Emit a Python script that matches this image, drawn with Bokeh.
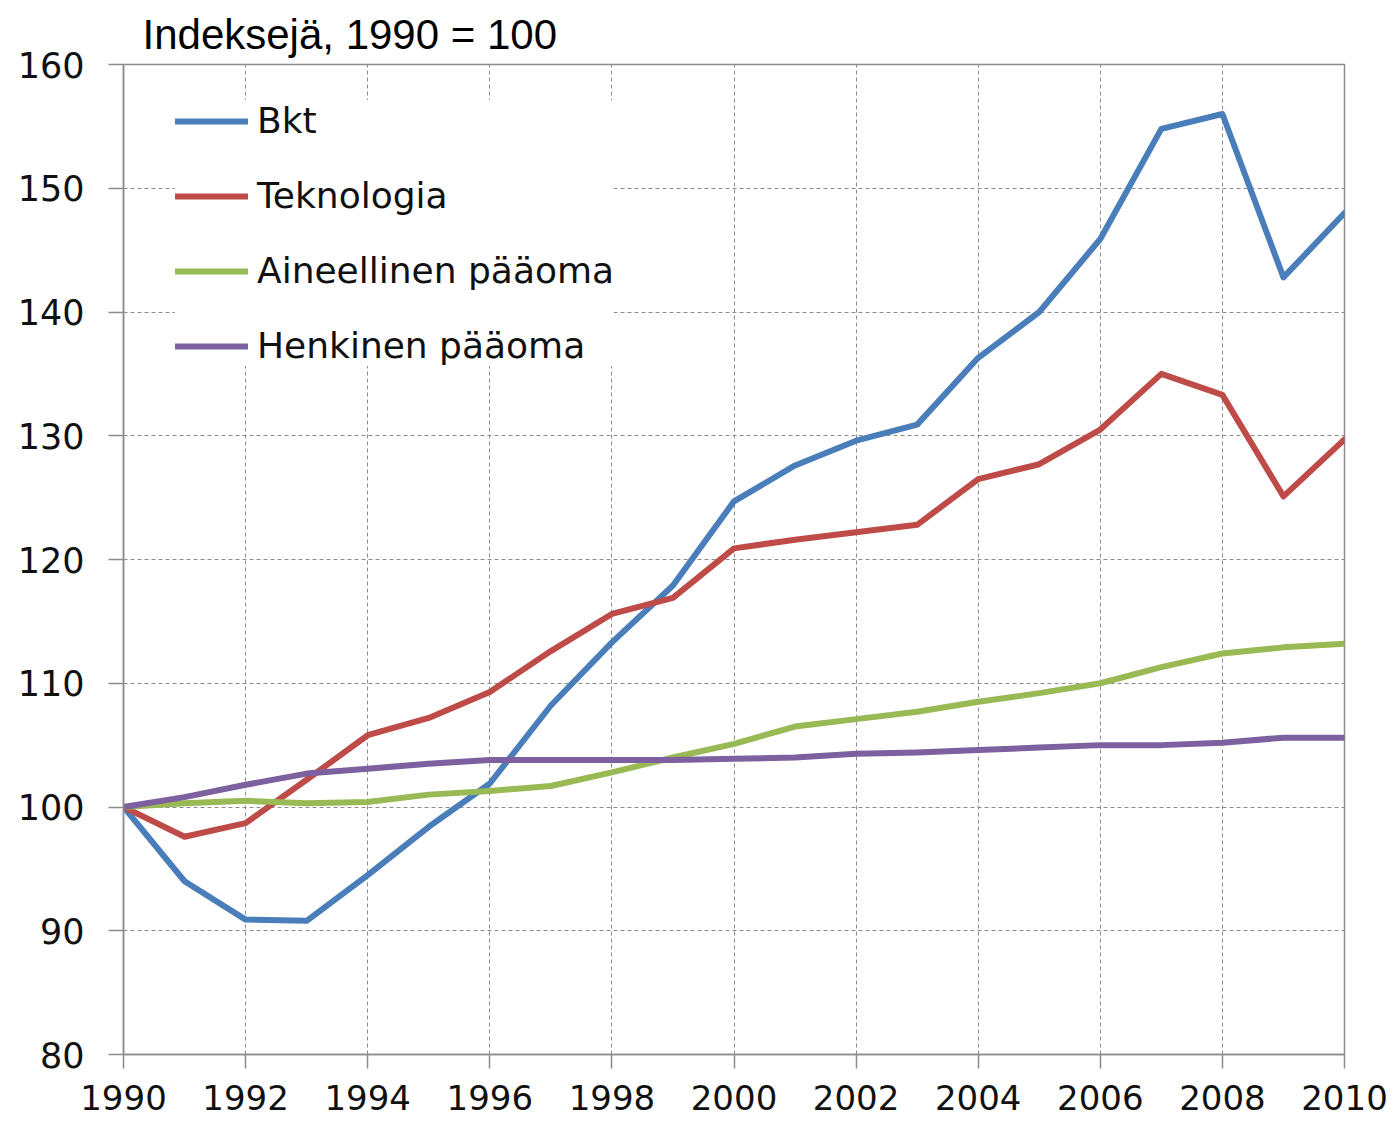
from bokeh.plotting import figure
from bokeh.models import Range1d, FixedTicker, Legend, LegendItem, Title
from bokeh.embed import file_html
from bokeh.resources import INLINE

years = list(range(1990, 2011))
bkt = [100, 94.0, 90.9, 90.8, 94.5, 98.4, 101.9, 108.2, 113.3, 117.9, 124.7,
       127.6, 129.6, 130.9, 136.3, 140.0, 145.9, 154.8, 156.0, 142.8, 148.0]
teknologia = [100, 97.6, 98.7, 102.2, 105.8, 107.2, 109.3, 112.6, 115.6, 116.9, 120.9,
              121.6, 122.2, 122.8, 126.5, 127.7, 130.5, 135.0, 133.3, 125.1, 129.7]
aineellinen = [100, 100.3, 100.5, 100.3, 100.4, 101.0, 101.3, 101.7, 102.8, 104.0, 105.1,
               106.5, 107.1, 107.7, 108.5, 109.2, 110.0, 111.3, 112.4, 112.9, 113.2]
henkinen = [100, 100.8, 101.8, 102.7, 103.1, 103.5, 103.8, 103.8, 103.8, 103.8, 103.9,
            104.0, 104.3, 104.4, 104.6, 104.8, 105.0, 105.0, 105.2, 105.6, 105.6]

series_names = ["Bkt", "Teknologia", "Aineellinen pääoma", "Henkinen pääoma"]
series_values = [bkt, teknologia, aineellinen, henkinen]
colors = ["#4A7EBB", "#BE4B48", "#98B954", "#7D60A0"]
x_ticks = list(range(1990, 2011, 2))
y_ticks = list(range(80, 161, 10))
title_text = "Indeksejä, 1990 = 100"

FONT = "DejaVu Sans"
GRID = "#8c8c8c"

p = figure(frame_width=1221, frame_height=990, output_backend="svg", toolbar_location=None,
           x_range=Range1d(1990, 2010), y_range=Range1d(80, 160),
           min_border_left=123, min_border_right=49, min_border_top=64, min_border_bottom=72)
p.background_fill_color = "white"
p.border_fill_color = "white"
p.outline_line_color = "#8c8c8c"
p.outline_line_width = 1.5

for ax, ticks in ((p.xaxis, x_ticks), (p.yaxis, y_ticks)):
    ax.ticker = FixedTicker(ticks=ticks)
    ax.axis_line_color = "#8c8c8c"
    ax.axis_line_width = 1.5
    ax.major_tick_line_color = "#8c8c8c"
    ax.major_tick_line_width = 1.5
    ax.major_tick_in = 0
    ax.minor_tick_line_color = None
    ax.major_label_text_font = FONT
    ax.major_label_text_color = "#111111"
p.xaxis.major_label_text_font_size = "34px"
p.yaxis.major_label_text_font_size = "35px"
p.xaxis.major_tick_out = 14
p.yaxis.major_tick_out = 15
p.xaxis.major_label_standoff = 16
p.yaxis.major_label_standoff = 24

for g in (p.xgrid, p.ygrid):
    g.grid_line_color = GRID
    g.grid_line_dash = "4 3"
    g.grid_line_width = 1
p.xgrid.ticker = FixedTicker(ticks=x_ticks)
p.ygrid.ticker = FixedTicker(ticks=y_ticks)

items = []
for name, vals, c in zip(series_names, series_values, colors):
    r = p.line(years, vals, line_color=c, line_width=6, line_join="round", line_cap="round")
    items.append(LegendItem(label=name, renderers=[r]))

legend = Legend(items=items, location=(52, 688), background_fill_color="white",
                background_fill_alpha=1.0, border_line_color=None,
                label_text_font=FONT, label_text_font_size="36px", label_text_color="#111111",
                glyph_width=73, glyph_height=40, label_height=40, spacing=34,
                padding=16, margin=0, label_standoff=9)
p.add_layout(legend)

title = Title(text=title_text, align="left", offset=19, text_font="Liberation Sans",
              text_font_size="42px", text_font_style="normal", text_color="black",
              text_line_height=0.8, standoff=14)
p.add_layout(title, "above")

open("out.html", "w").write(file_html(p, INLINE))
